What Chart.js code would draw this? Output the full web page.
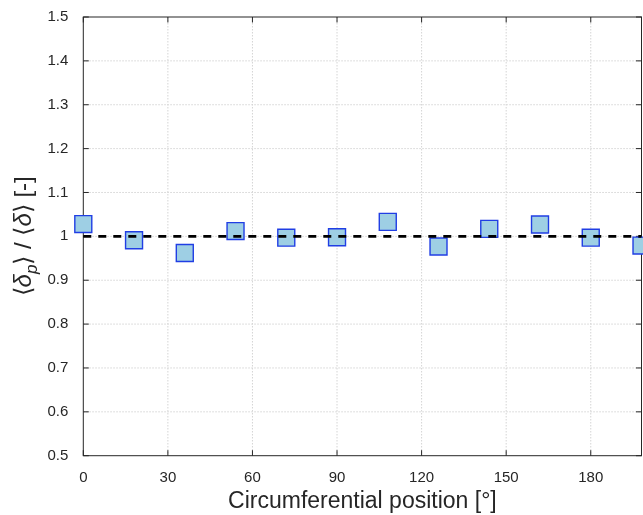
<!DOCTYPE html>
<html>
<head>
<meta charset="utf-8">
<script src="https://cdn.jsdelivr.net/npm/chart.js@4.4.1/dist/chart.umd.min.js"></script>
<style>
    html, body { margin: 0; padding: 0; background: #fff; }
    #wrap { width: 643px; height: 515px; position: relative; }
</style>
</head>
<body>
<div id="wrap"><canvas id="ratioChart"></canvas></div>
<script>
/* ── Données ───────────────────────────────────────────────── */

const positions = [0, 18, 36, 54, 72, 90, 108, 126, 144, 162, 180, 198];
const ratios    = [1.028, 0.991, 0.962, 1.012, 0.997, 0.998, 1.033, 0.977, 1.017, 1.027, 0.997, 0.979];
const refLevel  = 1;
const xTicks    = [0, 30, 60, 90, 120, 150, 180];
const yTicks    = [0.5, 0.6, 0.7, 0.8, 0.9, 1, 1.1, 1.2, 1.3, 1.4, 1.5];
const xRange    = [0, 198];
const yRange    = [0.5, 1.5];

const FONT   = '"Liberation Sans", Arial, Helvetica, sans-serif';
const INK    = "#262626";

/* ── Axes façon MATLAB : grille pointillée, cadre, graduations internes ── */

const boxedAxes = {
    id: "boxedAxes",
    beforeDatasetsDraw(chart) {
        const { ctx, chartArea: a, scales: { x, y } } = chart;
        const seg = (x1, y1, x2, y2) => { ctx.beginPath(); ctx.moveTo(x1, y1); ctx.lineTo(x2, y2); ctx.stroke(); };

        ctx.save();
        ctx.lineWidth = 1;
        ctx.strokeStyle = "#d4d4d4";
        ctx.setLineDash([1.5, 1.5]);
        xTicks.forEach((v) => {
            const px = x.getPixelForValue(v);
            if (px > a.left + 1 && px < a.right - 1) seg(px, a.top, px, a.bottom);
        });
        yTicks.forEach((v) => {
            const py = y.getPixelForValue(v);
            if (py > a.top + 1 && py < a.bottom - 1) seg(a.left, py, a.right, py);
        });

        ctx.setLineDash([]);
        ctx.strokeStyle = INK;
        const tick = 5.5;
        xTicks.forEach((v) => {
            const px = x.getPixelForValue(v);
            seg(px, a.bottom, px, a.bottom - tick);
            seg(px, a.top, px, a.top + tick);
        });
        yTicks.forEach((v) => {
            const py = y.getPixelForValue(v);
            seg(a.left, py, a.left + tick, py);
            seg(a.right, py, a.right - tick, py);
        });
        ctx.strokeRect(a.left, a.top, a.right - a.left, a.bottom - a.top);
        ctx.restore();
    },
    afterDraw(chart) {
        const { ctx, chartArea: a } = chart;
        ctx.save();
        ctx.fillStyle = INK;

        // titre axe x
        ctx.font = `23px ${FONT}`;
        ctx.textAlign = "center";
        ctx.textBaseline = "alphabetic";
        ctx.fillText("Circumferential position [°]", (a.left + a.right) / 2, 508);

        // titre axe y : ⟨δp⟩ / ⟨δ⟩ [-] avec indice
        const parts = [
            { t: "\u27E8",            f: `24px ${FONT}`,        dy: 0 },
            { t: "\u03B4",            f: `italic 24px ${FONT}`, dy: 0 },
            { t: "p",                 f: `italic 17px ${FONT}`, dy: 6 },
            { t: "\u27E9 / \u27E8",   f: `24px ${FONT}`,        dy: 0 },
            { t: "\u03B4",            f: `italic 24px ${FONT}`, dy: 0 },
            { t: "\u27E9 [-]",        f: `24px ${FONT}`,        dy: 0 },
        ];
        const widths = parts.map((p) => { ctx.font = p.f; return ctx.measureText(p.t).width; });
        const total = widths.reduce((s, w) => s + w, 0);
        ctx.translate(31, (a.top + a.bottom) / 2);
        ctx.rotate(-Math.PI / 2);
        ctx.textAlign = "left";
        let cx = -total / 2;
        parts.forEach((p, i) => {
            ctx.font = p.f;
            ctx.fillText(p.t, cx, p.dy);
            cx += widths[i];
        });
        ctx.restore();
    },
};

/* ── Graphique ─────────────────────────────────────────────── */

const ctx = document.getElementById("ratioChart").getContext("2d");

new Chart(ctx, {
    type: "scatter",
    data: {
        datasets: [
            {
                label: "ref",
                type: "line",
                data: xRange.map((v) => ({ x: v, y: refLevel })),
                borderColor: "#000",
                borderWidth: 2.6,
                borderDash: [8, 7],
                pointRadius: 0,
                fill: false,
                order: 0,
                clip: false,
            },
            {
                label: "ratio",
                data: positions.map((p, i) => ({ x: p, y: ratios[i] })),
                pointStyle: "rect",
                pointRadius: 12,
                pointHoverRadius: 12,
                backgroundColor: "rgb(158, 207, 228)",
                borderColor: "rgb(32, 62, 228)",
                borderWidth: 1.4,
                order: 1,
                clip: false,
            },
        ],
    },
    options: {
        responsive: true,
        maintainAspectRatio: false,
        animation: false,
        events: [],
        layout: { autoPadding: false, padding: { top: 17, right: 1.5, left: 0, bottom: 0 } },
        plugins: { legend: { display: false }, tooltip: { enabled: false } },
        scales: {
            x: {
                type: "linear",
                min: xRange[0],
                max: xRange[1],
                grid: { display: false },
                border: { display: false },
                afterBuildTicks: (s) => { s.ticks = xTicks.map((v) => ({ value: v })); },
                afterFit: (s) => { s.height = 59.3; s.paddingLeft = 0; s.paddingRight = 0; },
                ticks: {
                    color: INK,
                    padding: 5,
                    maxRotation: 0,
                    font: { family: FONT, size: 15 },
                    callback: (v) => String(v),
                },
            },
            y: {
                type: "linear",
                min: yRange[0],
                max: yRange[1],
                grid: { display: false },
                border: { display: false },
                afterBuildTicks: (s) => { s.ticks = yTicks.map((v) => ({ value: v })); },
                afterFit: (s) => { s.width = 83.3; s.paddingTop = 0; s.paddingBottom = 0; },
                ticks: {
                    color: INK,
                    padding: 7,
                    font: { family: FONT, size: 15 },
                    callback: (v) => String(Number(v.toFixed(1))),
                },
            },
        },
    },
    plugins: [boxedAxes],
});
</script>
</body>
</html>
